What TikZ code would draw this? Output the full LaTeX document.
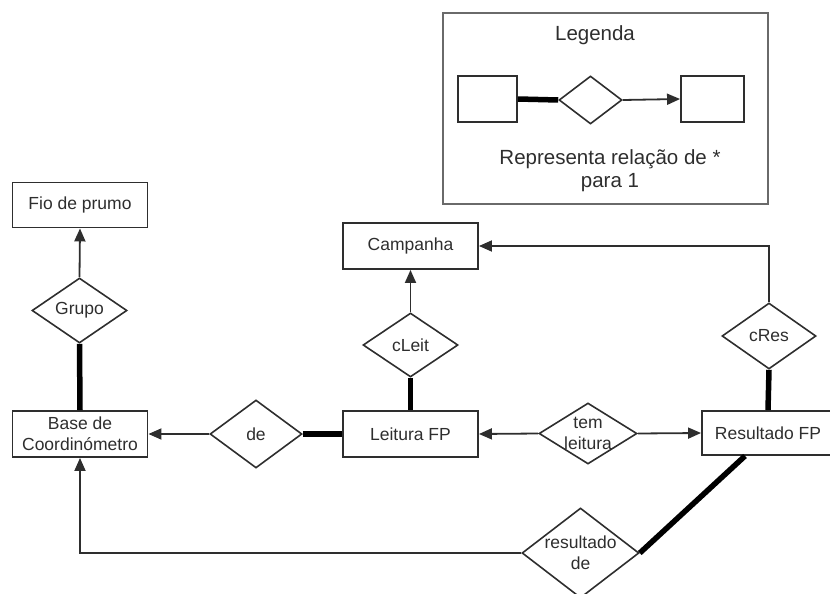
\documentclass[tikz,border=0pt]{standalone}
\usepackage{fontspec}
\setmainfont{Liberation Sans}
\usetikzlibrary{shapes.geometric,arrows.meta,calc}
\definecolor{ink}{HTML}{2E2E2E}
\definecolor{frame}{HTML}{6A6A6A}
\begin{document}
\begin{tikzpicture}[x=1pt,y=-1pt,
  every node/.style={text=ink},
  entity/.style={draw=ink,line width=1.9pt,rectangle,inner sep=0pt,
    minimum width=135pt,minimum height=46pt,
    font=\fontsize{17.5}{21}\selectfont,align=center},
  rel/.style={draw=ink,line width=1.6pt,diamond,inner sep=0pt},
  reltext/.style={font=\fontsize{17.5}{21}\selectfont,align=center,text=ink},
  link/.style={draw=ink,line width=1.8pt},
  card/.style={draw=black,line width=5.5pt},
  arr/.style={-{Triangle[length=13pt,width=11pt]},draw=ink,line width=1.8pt},
  legtext/.style={font=\fontsize{20.5}{23}\selectfont,align=center,text=ink}]

\useasboundingbox (0,0) rectangle (830,594);

% Legend
\draw[frame,line width=2.4pt] (443,13) rectangle (768,204);
\node[legtext] (legtitle) at (595,35) {Legenda};
\node[draw=ink,line width=1.9pt,minimum width=59pt,minimum height=46pt,inner sep=0pt] (lga) at (487.5,99) {};
\node[rel,minimum width=63pt,minimum height=48pt] (lgr) at (590.5,100) {};
\node[draw=ink,line width=1.9pt,minimum width=63pt,minimum height=46pt,inner sep=0pt] (lgb) at (712.5,99) {};
\draw[card] (lga.east) -- (lgr.west);
\draw[arr] (lgr.east) -- (lgb.west);
\node[legtext] (legnote) at (610,171) {Representa relação de *\\para 1};

% Entities
\node[entity,minimum height=45pt] (fio) at (80,205) {Fio de prumo};
\node[entity] (base) at (80,434) {Base de\\Coordinómetro};
\node[entity] (camp) at (410.5,246) {Campanha};
\node[entity] (leit) at (410.5,434) {Leitura FP};
\node[entity,minimum width=132pt,minimum height=44pt] (res) at (768,433) {Resultado FP};

% Relationships
\node[rel,minimum width=95pt,minimum height=65pt,
  label={[reltext]center:Grupo}] (grupo) at (79.5,310.5) {};
\node[rel,minimum width=92pt,minimum height=68pt,
  label={[reltext]center:de}] (de) at (256,434) {};
\node[rel,minimum width=95pt,minimum height=64pt,
  label={[reltext]center:cLeit}] (cleit) at (410.5,345) {};
\node[rel,minimum width=98pt,minimum height=61pt,
  label={[reltext]center:tem\\leitura}] (tem) at (588,433.5) {};
\node[rel,minimum width=94pt,minimum height=66pt,
  label={[reltext]center:cRes}] (cres) at (769,336) {};
\node[rel,minimum width=117pt,minimum height=90pt,
  label={[reltext]center:resultado\\de}] (resde) at (580.5,553) {};

% Connectors
\draw[arr] (grupo.north) -- (fio.south);
\draw[card] (grupo.south) -- (base.north);
\draw[arr] (de.west) -- (base.east);
\draw[card] (de.east) -- (leit.west);
\draw[arr] (cleit.north) -- (camp.south);
\draw[card] (cleit.south) -- (leit.north);
\draw[arr] (tem.west) -- (leit.east);
\draw[arr] (tem.east) -- (res.west);
\draw[arr] (cres.north) |- (camp.east);
\draw[card] (cres.south) -- (res.north);
\coordinate (resfoot) at ([xshift=-23pt]res.south);
\draw[card] (resde.east) -- (resfoot);
\draw[arr] (resde.west) -| (base.south);
\end{tikzpicture}
\end{document}
